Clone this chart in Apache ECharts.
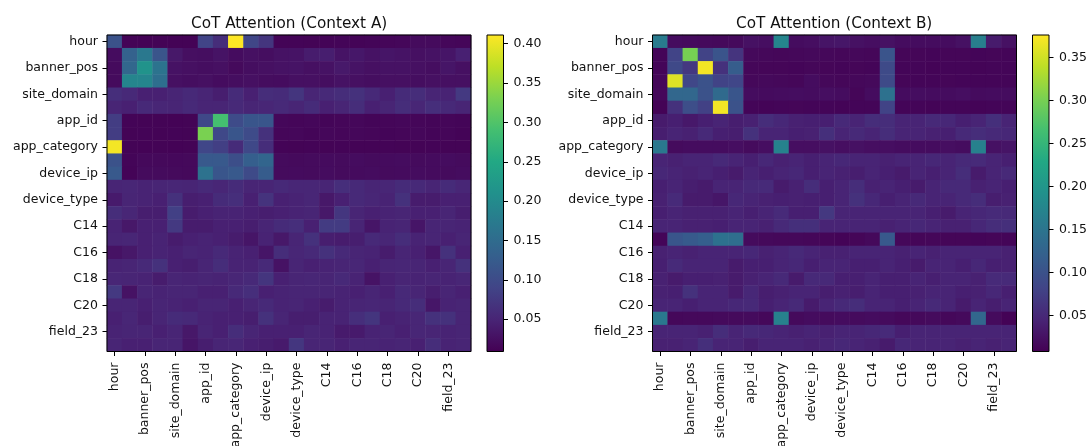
<!DOCTYPE html>
<html>
<head>
<meta charset="utf-8">
<title>CoT Attention</title>
<script src="https://cdn.jsdelivr.net/npm/echarts@6/dist/echarts.min.js"></script>
</head>
<body style="margin:0;background:#fff;">
<div id="main" style="width:1088px;height:446px;"></div>
<script type="text/javascript">
// feature names (only every other one is labelled)
var fields = ['hour', 'C1', 'banner_pos', 'site_id', 'site_domain', 'site_category',
    'app_id', 'app_domain', 'app_category', 'device_id', 'device_ip', 'device_model',
    'device_type', 'device_conn_type', 'C14', 'C15', 'C16', 'C17', 'C18', 'C19',
    'C20', 'C21', 'field_23', 'field_24'];

// attention weights, rows = query field, cols = key field
var contextA = [
    [0.110, 0.012, 0.011, 0.012, 0.011, 0.011, 0.090, 0.060, 0.411, 0.092, 0.070, 0.013, 0.013, 0.012, 0.013, 0.014, 0.013, 0.014, 0.015, 0.016, 0.020, 0.020, 0.016, 0.015],
    [0.022, 0.134, 0.170, 0.114, 0.035, 0.025, 0.024, 0.030, 0.022, 0.026, 0.024, 0.028, 0.030, 0.040, 0.042, 0.030, 0.034, 0.028, 0.032, 0.030, 0.026, 0.028, 0.032, 0.045],
    [0.020, 0.142, 0.214, 0.162, 0.028, 0.026, 0.024, 0.026, 0.019, 0.024, 0.026, 0.028, 0.030, 0.026, 0.028, 0.036, 0.030, 0.026, 0.028, 0.028, 0.026, 0.024, 0.032, 0.026],
    [0.020, 0.190, 0.190, 0.154, 0.026, 0.024, 0.026, 0.022, 0.024, 0.026, 0.023, 0.022, 0.026, 0.026, 0.024, 0.028, 0.026, 0.024, 0.026, 0.026, 0.024, 0.026, 0.026, 0.026],
    [0.062, 0.055, 0.045, 0.045, 0.050, 0.055, 0.050, 0.042, 0.058, 0.045, 0.060, 0.058, 0.070, 0.050, 0.055, 0.060, 0.065, 0.055, 0.045, 0.058, 0.060, 0.050, 0.048, 0.075],
    [0.050, 0.045, 0.055, 0.052, 0.050, 0.055, 0.050, 0.050, 0.055, 0.050, 0.052, 0.055, 0.050, 0.058, 0.045, 0.050, 0.060, 0.045, 0.050, 0.060, 0.052, 0.062, 0.055, 0.050],
    [0.080, 0.013, 0.012, 0.012, 0.011, 0.012, 0.095, 0.290, 0.100, 0.115, 0.115, 0.016, 0.015, 0.016, 0.014, 0.015, 0.016, 0.014, 0.015, 0.016, 0.015, 0.014, 0.015, 0.014],
    [0.080, 0.012, 0.013, 0.012, 0.013, 0.012, 0.330, 0.095, 0.115, 0.100, 0.065, 0.015, 0.016, 0.014, 0.016, 0.015, 0.016, 0.015, 0.014, 0.015, 0.016, 0.014, 0.015, 0.013],
    [0.405, 0.012, 0.011, 0.012, 0.011, 0.012, 0.093, 0.083, 0.058, 0.095, 0.060, 0.013, 0.012, 0.013, 0.012, 0.013, 0.012, 0.012, 0.013, 0.012, 0.012, 0.013, 0.012, 0.012],
    [0.110, 0.014, 0.018, 0.018, 0.017, 0.018, 0.120, 0.120, 0.105, 0.130, 0.140, 0.020, 0.019, 0.020, 0.021, 0.020, 0.022, 0.020, 0.021, 0.022, 0.020, 0.021, 0.022, 0.020],
    [0.120, 0.013, 0.020, 0.020, 0.019, 0.018, 0.160, 0.115, 0.120, 0.098, 0.125, 0.020, 0.021, 0.020, 0.022, 0.020, 0.021, 0.022, 0.020, 0.021, 0.022, 0.021, 0.020, 0.022],
    [0.050, 0.052, 0.048, 0.050, 0.052, 0.050, 0.055, 0.052, 0.058, 0.050, 0.050, 0.055, 0.052, 0.052, 0.050, 0.062, 0.055, 0.050, 0.052, 0.058, 0.055, 0.050, 0.058, 0.052],
    [0.038, 0.050, 0.048, 0.045, 0.065, 0.042, 0.045, 0.058, 0.062, 0.045, 0.068, 0.045, 0.048, 0.052, 0.035, 0.045, 0.055, 0.052, 0.048, 0.065, 0.040, 0.040, 0.045, 0.045],
    [0.060, 0.052, 0.042, 0.042, 0.085, 0.040, 0.045, 0.048, 0.048, 0.045, 0.042, 0.045, 0.048, 0.050, 0.035, 0.072, 0.050, 0.045, 0.048, 0.050, 0.045, 0.045, 0.050, 0.042],
    [0.048, 0.035, 0.045, 0.045, 0.075, 0.040, 0.040, 0.045, 0.045, 0.042, 0.050, 0.058, 0.062, 0.045, 0.078, 0.078, 0.050, 0.032, 0.048, 0.050, 0.032, 0.050, 0.050, 0.048],
    [0.050, 0.052, 0.045, 0.048, 0.040, 0.045, 0.048, 0.045, 0.040, 0.032, 0.048, 0.035, 0.050, 0.065, 0.042, 0.040, 0.042, 0.055, 0.052, 0.060, 0.048, 0.050, 0.045, 0.050],
    [0.028, 0.035, 0.045, 0.048, 0.045, 0.050, 0.048, 0.055, 0.048, 0.045, 0.032, 0.060, 0.052, 0.055, 0.065, 0.055, 0.050, 0.048, 0.040, 0.050, 0.045, 0.033, 0.065, 0.045],
    [0.048, 0.050, 0.055, 0.065, 0.045, 0.042, 0.050, 0.060, 0.048, 0.048, 0.055, 0.028, 0.050, 0.045, 0.048, 0.050, 0.052, 0.045, 0.050, 0.052, 0.050, 0.045, 0.050, 0.065],
    [0.052, 0.050, 0.048, 0.040, 0.050, 0.048, 0.050, 0.048, 0.052, 0.055, 0.070, 0.045, 0.050, 0.052, 0.050, 0.055, 0.048, 0.030, 0.045, 0.050, 0.048, 0.050, 0.048, 0.052],
    [0.075, 0.028, 0.050, 0.048, 0.050, 0.050, 0.045, 0.045, 0.055, 0.062, 0.045, 0.048, 0.050, 0.050, 0.050, 0.048, 0.045, 0.050, 0.045, 0.055, 0.050, 0.042, 0.050, 0.045],
    [0.050, 0.050, 0.045, 0.050, 0.048, 0.045, 0.050, 0.050, 0.045, 0.050, 0.055, 0.048, 0.050, 0.045, 0.040, 0.048, 0.050, 0.052, 0.050, 0.055, 0.060, 0.033, 0.048, 0.050],
    [0.045, 0.052, 0.042, 0.050, 0.058, 0.055, 0.048, 0.045, 0.045, 0.042, 0.065, 0.050, 0.042, 0.042, 0.048, 0.048, 0.062, 0.070, 0.045, 0.048, 0.052, 0.065, 0.065, 0.050],
    [0.048, 0.050, 0.050, 0.045, 0.050, 0.035, 0.050, 0.045, 0.060, 0.050, 0.045, 0.045, 0.045, 0.050, 0.048, 0.038, 0.038, 0.048, 0.050, 0.045, 0.052, 0.050, 0.048, 0.050],
    [0.050, 0.045, 0.045, 0.050, 0.050, 0.032, 0.042, 0.050, 0.052, 0.045, 0.042, 0.038, 0.072, 0.050, 0.050, 0.045, 0.050, 0.050, 0.048, 0.050, 0.045, 0.060, 0.048, 0.050]
];

var contextB = [
    [0.160, 0.020, 0.018, 0.017, 0.016, 0.017, 0.025, 0.022, 0.175, 0.020, 0.022, 0.028, 0.030, 0.025, 0.022, 0.025, 0.020, 0.020, 0.020, 0.020, 0.025, 0.165, 0.035, 0.025],
    [0.012, 0.082, 0.300, 0.080, 0.104, 0.063, 0.016, 0.015, 0.014, 0.015, 0.016, 0.015, 0.014, 0.015, 0.014, 0.104, 0.013, 0.013, 0.012, 0.013, 0.013, 0.012, 0.013, 0.012],
    [0.012, 0.088, 0.068, 0.370, 0.060, 0.115, 0.014, 0.013, 0.013, 0.012, 0.014, 0.013, 0.012, 0.013, 0.012, 0.090, 0.012, 0.012, 0.011, 0.012, 0.012, 0.011, 0.012, 0.012],
    [0.014, 0.358, 0.086, 0.100, 0.080, 0.085, 0.015, 0.016, 0.015, 0.014, 0.020, 0.015, 0.014, 0.015, 0.016, 0.090, 0.013, 0.012, 0.012, 0.013, 0.012, 0.012, 0.012, 0.012],
    [0.015, 0.130, 0.130, 0.100, 0.135, 0.105, 0.020, 0.019, 0.020, 0.021, 0.020, 0.022, 0.020, 0.013, 0.020, 0.145, 0.020, 0.021, 0.020, 0.020, 0.022, 0.019, 0.020, 0.020],
    [0.010, 0.060, 0.095, 0.078, 0.370, 0.100, 0.012, 0.011, 0.012, 0.013, 0.012, 0.012, 0.011, 0.012, 0.012, 0.080, 0.012, 0.012, 0.011, 0.012, 0.012, 0.011, 0.012, 0.012],
    [0.035, 0.040, 0.032, 0.040, 0.045, 0.038, 0.042, 0.055, 0.048, 0.042, 0.040, 0.040, 0.050, 0.045, 0.055, 0.055, 0.045, 0.045, 0.050, 0.048, 0.040, 0.045, 0.058, 0.045],
    [0.038, 0.045, 0.042, 0.050, 0.040, 0.038, 0.060, 0.045, 0.045, 0.040, 0.042, 0.058, 0.045, 0.050, 0.045, 0.055, 0.045, 0.045, 0.042, 0.040, 0.050, 0.055, 0.050, 0.048],
    [0.155, 0.018, 0.020, 0.020, 0.020, 0.022, 0.018, 0.022, 0.170, 0.022, 0.022, 0.025, 0.022, 0.025, 0.022, 0.022, 0.020, 0.020, 0.020, 0.022, 0.020, 0.168, 0.025, 0.028],
    [0.045, 0.042, 0.045, 0.045, 0.050, 0.045, 0.040, 0.048, 0.042, 0.045, 0.040, 0.045, 0.048, 0.045, 0.045, 0.042, 0.045, 0.045, 0.048, 0.045, 0.050, 0.052, 0.045, 0.040],
    [0.048, 0.045, 0.042, 0.045, 0.040, 0.035, 0.045, 0.040, 0.045, 0.048, 0.040, 0.045, 0.042, 0.038, 0.045, 0.040, 0.035, 0.045, 0.040, 0.045, 0.055, 0.035, 0.045, 0.050],
    [0.040, 0.045, 0.038, 0.035, 0.045, 0.045, 0.050, 0.052, 0.035, 0.042, 0.055, 0.040, 0.045, 0.055, 0.042, 0.045, 0.040, 0.035, 0.045, 0.050, 0.050, 0.042, 0.045, 0.040],
    [0.042, 0.052, 0.035, 0.035, 0.030, 0.048, 0.045, 0.042, 0.040, 0.042, 0.040, 0.040, 0.045, 0.060, 0.048, 0.040, 0.045, 0.050, 0.045, 0.045, 0.050, 0.055, 0.038, 0.042],
    [0.040, 0.045, 0.042, 0.042, 0.042, 0.045, 0.040, 0.045, 0.052, 0.040, 0.040, 0.068, 0.045, 0.045, 0.045, 0.045, 0.045, 0.045, 0.040, 0.035, 0.045, 0.048, 0.052, 0.050],
    [0.045, 0.045, 0.042, 0.042, 0.040, 0.045, 0.045, 0.042, 0.050, 0.058, 0.058, 0.045, 0.045, 0.045, 0.045, 0.042, 0.045, 0.048, 0.045, 0.042, 0.042, 0.048, 0.055, 0.058],
    [0.012, 0.105, 0.112, 0.118, 0.145, 0.140, 0.018, 0.016, 0.015, 0.015, 0.014, 0.013, 0.011, 0.013, 0.016, 0.110, 0.015, 0.013, 0.014, 0.013, 0.013, 0.012, 0.013, 0.012],
    [0.042, 0.045, 0.042, 0.045, 0.045, 0.045, 0.048, 0.042, 0.045, 0.050, 0.045, 0.042, 0.042, 0.045, 0.045, 0.045, 0.042, 0.045, 0.042, 0.045, 0.045, 0.045, 0.045, 0.042],
    [0.040, 0.052, 0.045, 0.045, 0.045, 0.035, 0.040, 0.040, 0.045, 0.048, 0.040, 0.045, 0.045, 0.040, 0.040, 0.045, 0.040, 0.035, 0.045, 0.045, 0.040, 0.048, 0.040, 0.042],
    [0.042, 0.035, 0.040, 0.040, 0.042, 0.035, 0.042, 0.045, 0.050, 0.035, 0.050, 0.050, 0.040, 0.040, 0.045, 0.040, 0.040, 0.045, 0.040, 0.045, 0.045, 0.042, 0.052, 0.052],
    [0.042, 0.040, 0.060, 0.045, 0.045, 0.035, 0.048, 0.038, 0.042, 0.045, 0.045, 0.038, 0.042, 0.038, 0.045, 0.040, 0.040, 0.042, 0.045, 0.045, 0.040, 0.042, 0.048, 0.040],
    [0.045, 0.045, 0.040, 0.045, 0.045, 0.048, 0.050, 0.040, 0.045, 0.050, 0.035, 0.045, 0.050, 0.055, 0.045, 0.045, 0.040, 0.045, 0.050, 0.045, 0.035, 0.045, 0.038, 0.045],
    [0.155, 0.015, 0.016, 0.016, 0.017, 0.017, 0.018, 0.015, 0.168, 0.017, 0.020, 0.018, 0.020, 0.018, 0.020, 0.018, 0.015, 0.016, 0.018, 0.015, 0.017, 0.130, 0.018, 0.010],
    [0.045, 0.045, 0.045, 0.042, 0.055, 0.045, 0.050, 0.048, 0.045, 0.042, 0.045, 0.042, 0.045, 0.045, 0.048, 0.052, 0.040, 0.045, 0.045, 0.045, 0.045, 0.045, 0.045, 0.045],
    [0.042, 0.042, 0.045, 0.058, 0.045, 0.045, 0.038, 0.045, 0.045, 0.045, 0.042, 0.045, 0.048, 0.045, 0.042, 0.035, 0.048, 0.045, 0.045, 0.045, 0.042, 0.045, 0.042, 0.045]
];

// colour bar limits and ticks
var rangeA = [0.009, 0.411];
var rangeB = [0.008, 0.376];
var ticksA = [0.05, 0.10, 0.15, 0.20, 0.25, 0.30, 0.35, 0.40];
var ticksB = [0.05, 0.10, 0.15, 0.20, 0.25, 0.30, 0.35];

var viridis = ['#440154', '#482475', '#414487', '#355f8d', '#2a788e', '#21918c',
    '#22a884', '#44bf70', '#7ad151', '#bddf26', '#fde725'];

function toCells(m) {
    var out = [];
    for (var r = 0; r < m.length; r++) {
        for (var c = 0; c < m[r].length; c++) {
            out.push([c, r, m[r][c]]);
        }
    }
    return out;
}

var font = 'DejaVu Sans';
var txt = '#111';

function heatX(gi) {
    return {
        type: 'category', gridIndex: gi, data: fields, position: 'bottom',
        axisLine: {show: false},
        axisTick: {show: true, interval: 1, alignWithLabel: true, length: 4.5, lineStyle: {color: '#000'}},
        axisLabel: {interval: 1, rotate: 90, fontSize: 12.5, color: txt, margin: 11, fontFamily: font},
        splitLine: {show: false}
    };
}
function heatY(gi) {
    return {
        type: 'category', gridIndex: gi, data: fields, inverse: true,
        axisLine: {show: false},
        axisTick: {show: true, interval: 1, alignWithLabel: true, length: 4.5, lineStyle: {color: '#000'}},
        axisLabel: {interval: 1, fontSize: 12.5, color: txt, margin: 9, fontFamily: font},
        splitLine: {show: false}
    };
}
function barX(gi) {
    return {type: 'category', gridIndex: gi, data: ['v'], show: false};
}
function barY(gi, range, ticks) {
    return {
        type: 'value', gridIndex: gi, position: 'right', min: range[0], max: range[1],
        axisLine: {show: false},
        axisTick: {show: true, customValues: ticks, length: 4.5, lineStyle: {color: '#000'}},
        axisLabel: {customValues: ticks, fontSize: 12.5, color: txt, margin: 10, fontFamily: font,
            formatter: function (v) { return v.toFixed(2); }},
        splitLine: {show: false}
    };
}

function colorbarItem(params, api) {
    var cs = params.coordSys;
    var lo = api.coord([0, api.value(1)]);
    var hi = api.coord([0, api.value(2)]);
    var stops = viridis.map(function (c, i) { return {offset: i / (viridis.length - 1), color: c}; });
    return {
        type: 'rect',
        shape: {x: cs.x, y: hi[1], width: cs.width, height: lo[1] - hi[1]},
        style: {fill: new echarts.graphic.LinearGradient(0, 1, 0, 0, stops)}
    };
}

var frame = {show: true, z: 5, backgroundColor: 'rgba(0,0,0,0)', borderColor: '#000', borderWidth: 1,
    outerBoundsMode: 'none', containLabel: false};
var titleStyle = {fontSize: 15.25, fontWeight: 'normal', color: txt, fontFamily: font};

var myChart = echarts.init(document.getElementById('main'));
myChart.setOption({
    backgroundColor: '#fff',
    animation: false,
    textStyle: {fontFamily: font},
    title: [
        {text: 'CoT Attention (Context A)', left: 191, top: 17, padding: 0, textStyle: titleStyle},
        {text: 'CoT Attention (Context B)', left: 736, top: 17, padding: 0, textStyle: titleStyle}
    ],
    grid: [
        Object.assign({left: 107, top: 35, width: 364, height: 316.5}, frame),
        Object.assign({left: 487, top: 35, width: 16.5, height: 316.5}, frame),
        Object.assign({left: 652.5, top: 35, width: 364, height: 316.5}, frame),
        Object.assign({left: 1032.5, top: 35, width: 16.5, height: 316.5}, frame)
    ],
    xAxis: [heatX(0), barX(1), heatX(2), barX(3)],
    yAxis: [heatY(0), barY(1, rangeA, ticksA), heatY(2), barY(3, rangeB, ticksB)],
    visualMap: [
        {type: 'continuous', show: false, seriesIndex: 0, dimension: 2,
            min: rangeA[0], max: rangeA[1], inRange: {color: viridis}},
        {type: 'continuous', show: false, seriesIndex: 2, dimension: 2,
            min: rangeB[0], max: rangeB[1], inRange: {color: viridis}}
    ],
    series: [
        {type: 'heatmap', xAxisIndex: 0, yAxisIndex: 0, data: toCells(contextA)},
        {type: 'custom', xAxisIndex: 1, yAxisIndex: 1, renderItem: colorbarItem,
            encode: {x: 0, y: [1, 2]}, data: [[0, rangeA[0], rangeA[1]]], silent: true},
        {type: 'heatmap', xAxisIndex: 2, yAxisIndex: 2, data: toCells(contextB)},
        {type: 'custom', xAxisIndex: 3, yAxisIndex: 3, renderItem: colorbarItem,
            encode: {x: 0, y: [1, 2]}, data: [[0, rangeB[0], rangeB[1]]], silent: true}
    ]
});
</script>
</body>
</html>
